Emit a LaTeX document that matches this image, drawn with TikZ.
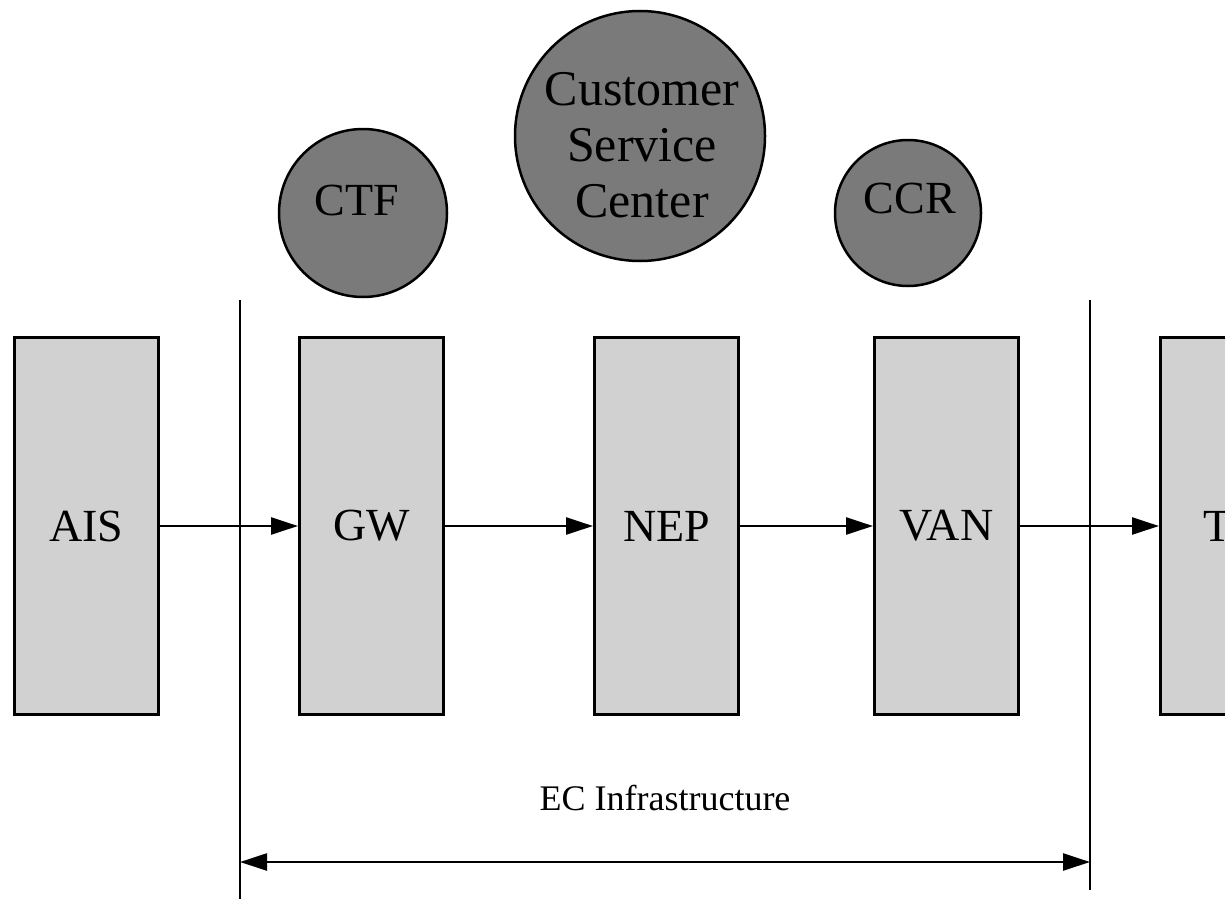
\documentclass[tikz,border=0pt]{standalone}
\usepackage{fontspec}
\setmainfont{Liberation Serif}
\usetikzlibrary{arrows.meta}
\begin{document}
\begin{tikzpicture}[x=1pt,y=-1pt,
  blockbox/.style={draw=black,line width=3pt,fill=black!18,minimum width=144pt,minimum height=377pt,inner sep=0pt,font=\fontsize{46}{50}\selectfont},
  bubble/.style={circle,draw=black,line width=2.5pt,fill=black!52,inner sep=0pt},
  bubbletext/.style={inner sep=0pt,align=center},
  flow/.style={line width=2.4pt,-{Triangle[length=27pt,width=17pt]}},
  boundary/.style={line width=2pt},
  span/.style={line width=2.4pt,{Triangle[length=27pt,width=17pt]}-{Triangle[length=27pt,width=17pt]}}
]
\useasboundingbox (0,0) rectangle (1225,899);
% blocks
\node[blockbox] (ais) at (86.5,526) {AIS};
\node[blockbox] (gw)  at (371.5,526) {GW};
\node[blockbox] (nep) at (666.5,526) {NEP};
\node[blockbox] (van) at (946.5,526) {VAN};
\node[blockbox,anchor=west] (tbox) at (1159,526) {};
\node[anchor=west,inner sep=0pt,font=\fontsize{46}{50}\selectfont] (tlabel) at (1203,526) {T};
% bubbles
\node[bubble,minimum size=168pt] (ctf) at (363,213) {};
\node[bubble,minimum size=250pt] (csc) at (640,136) {};
\node[bubble,minimum size=146pt] (ccr) at (908,213) {};
\node[bubbletext,font=\fontsize{46}{50}\selectfont] (ctft) at (357,200) {CTF};
\node[bubbletext,font=\fontsize{50}{56}\selectfont] (csct) at (642,145) {Customer\\Service\\Center};
\node[bubbletext,font=\fontsize{46}{50}\selectfont] (ccrt) at (910,198) {CCR};
% boundary lines
\coordinate (l1) at (240,300);
\coordinate (l2) at (240,899);
\coordinate (r1) at (1090,300);
\coordinate (r2) at (1090,890);
\draw[boundary] (l1) -- (l2);
\draw[boundary] (r1) -- (r2);
% flows
\draw[flow] (ais.east) -- (gw.west);
\draw[flow] (gw.east) -- (nep.west);
\draw[flow] (nep.east) -- (van.west);
\draw[flow] (van.east) -- (tbox.west);
% span
\coordinate (sl) at (240,862);
\coordinate (sr) at (1090,862);
\draw[span] (sl) -- (sr);
\node[font=\fontsize{36}{40}\selectfont] (ec) at (665,798) {EC Infrastructure};
\end{tikzpicture}
\end{document}
